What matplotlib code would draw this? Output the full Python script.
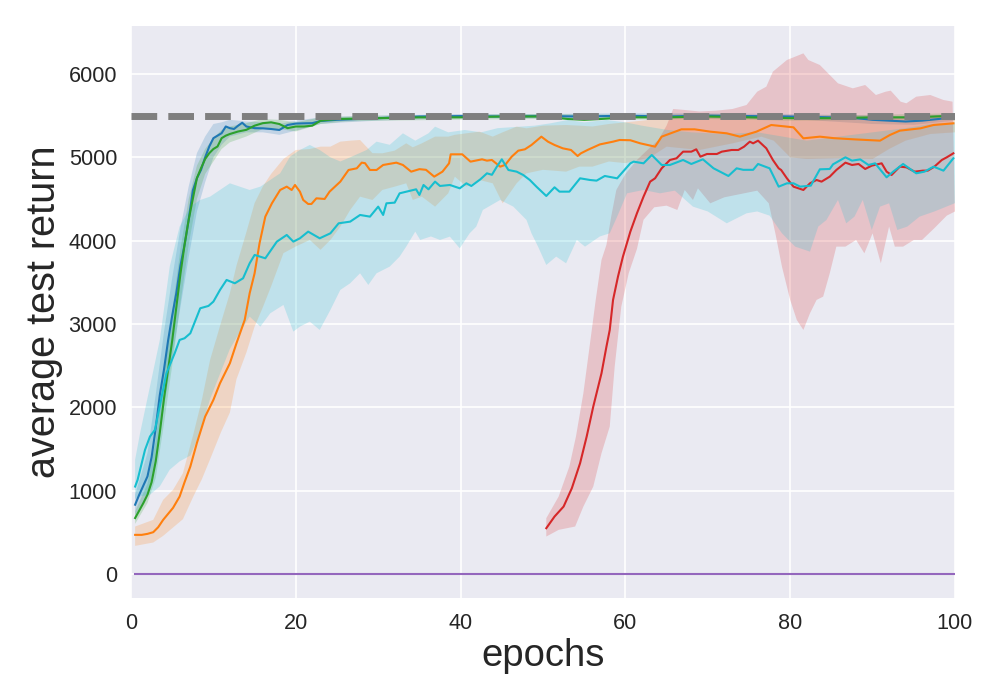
import numpy as np
import matplotlib
matplotlib.use("Agg")
import matplotlib.pyplot as plt

# ---------------- data ----------------
blue_x = [0.5, 1.0, 1.5, 2.0, 2.5, 3.0, 3.5, 4.0, 4.5, 5.0, 5.5, 6.0, 6.5, 7.0, 7.5, 8.0, 8.5, 9.0, 9.5,
          10.0, 10.5, 11.0, 11.5, 12.0, 12.5, 13.0, 13.5, 14.0, 15, 16, 17, 18, 19, 20, 21, 22, 23,
          25, 30, 35, 40, 45, 50, 55, 60, 65, 70, 75, 80, 85, 88, 90, 92, 94, 96, 98, 100]
blue_y = [830, 950, 1060, 1170, 1400, 1750, 2150, 2450, 2800, 3100, 3370, 3700, 3950, 4250, 4600, 4750,
          4850, 5000, 5130, 5230, 5260, 5290, 5370, 5350, 5340, 5380, 5415, 5370, 5350, 5348, 5340, 5328,
          5388, 5405, 5408, 5410, 5436, 5450, 5470, 5490, 5495, 5490, 5495, 5490, 5500, 5490, 5500, 5495,
          5490, 5480, 5470, 5450, 5440, 5430, 5440, 5460, 5480]
blue_band_x = [0.5, 2, 3, 4, 5, 6, 7, 8, 9, 10, 11, 12, 14, 16, 18, 20, 23, 26, 30, 40, 50, 60, 70, 80, 90, 95, 100]
blue_lo = [700, 950, 1350, 2000, 2600, 3200, 3800, 4350, 4700, 5000, 5150, 5250, 5300, 5300, 5270, 5320,
           5400, 5420, 5440, 5470, 5470, 5470, 5470, 5460, 5400, 5390, 5440]
blue_hi = [950, 1450, 2150, 2900, 3550, 4150, 4650, 5050, 5250, 5400, 5420, 5450, 5430, 5420, 5400, 5440,
           5480, 5490, 5500, 5520, 5520, 5530, 5530, 5520, 5500, 5490, 5520]

green_x = [0.5, 1.0, 1.5, 2.0, 2.5, 3.0, 3.5, 4.0, 4.5, 5.0, 5.5, 6.0, 6.5, 7.0, 7.5, 8.0, 8.5, 9.0, 9.5,
           10, 10.5, 11, 11.5, 12, 13, 14, 15, 16, 17, 18, 19, 20, 21, 22, 23, 25, 30, 35, 40, 45, 50,
           53, 55, 57, 60, 65, 70, 75, 80, 85, 90, 95, 100]
green_y = [670, 760, 850, 950, 1100, 1350, 1700, 2100, 2450, 2800, 3200, 3600, 3950, 4250, 4500, 4750, 4870,
           4980, 5050, 5100, 5130, 5230, 5260, 5280, 5310, 5330, 5380, 5410, 5420, 5400, 5350, 5370, 5370,
           5380, 5440, 5460, 5470, 5480, 5480, 5490, 5490, 5460, 5450, 5460, 5480, 5480, 5490, 5480, 5470,
           5470, 5480, 5480, 5500]
green_band_x = [0.5, 2, 3, 4, 5, 6, 7, 8, 9, 10, 11, 12, 14, 16, 18, 20, 23, 26, 30, 40, 50, 60, 70, 80, 90, 100]
green_lo = [600, 850, 1150, 1800, 2500, 3250, 3950, 4500, 4800, 4950, 5100, 5180, 5250, 5340, 5340, 5310,
            5400, 5430, 5440, 5450, 5460, 5450, 5460, 5440, 5450, 5470]
green_hi = [750, 1080, 1600, 2450, 3150, 3900, 4500, 4900, 5100, 5230, 5330, 5370, 5410, 5460, 5450, 5420,
            5480, 5490, 5500, 5510, 5520, 5510, 5520, 5500, 5510, 5530]

orange_x = [0.5, 1.3, 2.0, 2.7, 3.3, 3.9, 4.5, 5.1, 5.9, 6.5, 7.2, 8.0, 9.0, 10.0, 10.8, 12.0, 12.8, 13.8,
            14.4, 15.0, 15.6, 16.3, 17.1, 18.1, 18.9, 19.5, 19.9, 20.5, 20.9, 21.5, 21.9, 22.5, 23.5, 24.1,
            25.4, 26.4, 27.4, 28.0, 28.4, 29.0, 29.8, 30.6, 32.2, 33.0, 34.0, 35.0, 35.8, 36.8, 37.8, 38.6,
            38.8, 40.2, 41.2, 42.6, 43.2, 43.8, 44.8, 45.4, 46.2, 47.0, 47.8, 48.6, 49.8, 50.6, 51.4, 52.4,
            53.4, 54.2, 54.6, 55.4, 56.9, 58.5, 59.3, 60.6, 61.8, 63.6, 64.4, 66.8, 68.4, 70.3, 72.3, 73.9,
            75.9, 77.7, 80.4, 81.6, 83.6, 85.3, 87.7, 89.3, 90.9, 92.1, 93.3, 95.8, 97.4, 99.8]
orange_y = [468, 468, 480, 500, 560, 648, 720, 792, 928, 1100, 1288, 1572, 1888, 2088, 2288, 2528, 2768, 3048,
            3368, 3608, 3968, 4288, 4448, 4608, 4648, 4608, 4668, 4588, 4488, 4440, 4440, 4508, 4500, 4588,
            4708, 4848, 4868, 4936, 4930, 4848, 4848, 4908, 4936, 4908, 4828, 4858, 4850, 4768, 4828, 4928,
            5036, 5036, 4948, 4976, 4960, 4968, 4888, 4908, 5008, 5080, 5096, 5148, 5248, 5188, 5148, 5108,
            5088, 5016, 5048, 5088, 5155, 5188, 5208, 5205, 5168, 5128, 5248, 5336, 5336, 5308, 5288, 5248,
            5308, 5388, 5360, 5228, 5248, 5230, 5216, 5208, 5200, 5268, 5320, 5348, 5388, 5408]
orange_band_x = [0.5, 2.7, 3.9, 5.1, 6.3, 7.6, 8.6, 9.6, 10.9, 12, 12.8, 14, 15, 16, 17, 18.5, 20, 21.7,
                 23, 24.2, 25.4, 26.6, 27.8, 29.3, 30.5, 32, 33.4, 34.2, 35.3, 36.9, 38.5, 39.3, 40.7, 42.3,
                 43.9, 45.1, 46.8, 48, 50, 52.8, 54.4, 56, 58, 60, 63, 65, 69, 73, 76.5, 78, 80, 82, 86, 90,
                 92, 94, 97, 100]
orange_lo = [336, 376, 456, 556, 656, 936, 1136, 1376, 1696, 1936, 2336, 2656, 2968, 3200, 3450, 3850, 3930,
             4008, 3890, 4008, 4168, 4368, 4528, 4488, 4608, 4648, 4688, 4488, 4528, 4408, 4568, 4768, 4648,
             4728, 4688, 4448, 4688, 4808, 4850, 4828, 4888, 4888, 4950, 4930, 5000, 5128, 5088, 5168, 5248,
             5200, 5000, 4980, 4990, 4980, 5100, 5200, 5280, 5300]
orange_hi = [568, 648, 888, 1008, 1208, 1688, 2088, 2568, 3008, 3368, 3700, 4100, 4450, 4650, 4800, 4980,
             5088, 5100, 5128, 5128, 5188, 5200, 5208, 5050, 5048, 5080, 5168, 5120, 5168, 5248, 5248, 5270,
             5288, 5308, 5248, 5300, 5368, 5348, 5380, 5388, 5380, 5370, 5400, 5420, 5450, 5470, 5500, 5500,
             5490, 5500, 5500, 5490, 5480, 5470, 5480, 5490, 5500, 5500]

red_x = [50.4, 51.4, 52.5, 53.5, 54.5, 55.3, 56.1, 57.1, 57.7, 58.1, 58.5, 59.1, 59.7, 60.6, 61.4, 62.2,
         63.0, 63.6, 64.4, 65.4, 66.2, 67.0, 68.0, 68.6, 69.1, 69.9, 71.1, 71.7, 72.9, 73.7, 74.4, 75.1,
         75.5, 76.1, 77.1, 77.9, 78.6, 78.9, 79.6, 80.4, 81.6, 82.4, 83.2, 83.8, 84.8, 85.6, 86.7, 87.5,
         88.3, 89.1, 89.9, 91.1, 91.7, 92.3, 93.3, 94.1, 95.1, 96.1, 96.7, 97.5, 98.4, 99.0, 99.8]
red_y = [548, 688, 808, 1028, 1328, 1648, 2008, 2408, 2728, 2928, 3288, 3568, 3808, 4108, 4328, 4528,
         4708, 4748, 4868, 4968, 4988, 5068, 5068, 5096, 5008, 5040, 5040, 5068, 5088, 5088, 5128, 5188,
         5168, 5200, 5108, 4968, 4868, 4848, 4748, 4648, 4608, 4688, 4728, 4708, 4768, 4848, 4936, 4908,
         4920, 4860, 4900, 4928, 4828, 4788, 4888, 4880, 4828, 4840, 4840, 4888, 4968, 5000, 5048]
red_lo_x = [50.4, 51.9, 53.9, 54.9, 56.1, 57.1, 58.1, 58.7, 59.5, 60.4, 61.4, 62.2, 63.5, 65, 66.3, 67.2,
            68.2, 68.8, 70.3, 72, 74, 76, 77.4, 78.2, 79, 80, 80.8, 81.6, 82.4, 83.2, 84, 84.8, 85.6, 86.7,
            88, 89, 90, 91, 92, 92.7, 93.7, 95, 96, 97.5, 99, 100]
red_lo = [448, 528, 568, 808, 1048, 1448, 1768, 2488, 3208, 3608, 3900, 4250, 4400, 4420, 4368, 4608,
          4488, 4628, 4448, 4520, 4560, 4600, 4448, 4088, 3688, 3288, 3048, 2928, 3128, 3288, 3328, 3608,
          3928, 3928, 4008, 3848, 4088, 3728, 4168, 3928, 3928, 4008, 4008, 4150, 4300, 4350]
red_hi_x = [50.4, 51.9, 53.2, 54.0, 54.9, 55.6, 56.4, 57.1, 57.7, 58.3, 58.9, 60.0, 61.4, 62.8, 64.0, 65.0,
            65.8, 67, 69, 71, 73, 74.7, 76, 77.1, 77.9, 79.6, 81.6, 82.2, 83.6, 84.8, 85.8, 87.6, 89.1,
            90.4, 91.6, 92.2, 93.4, 94.1, 95.3, 97, 98.6, 99.7]
red_hi = [668, 928, 1288, 1648, 2168, 2688, 3288, 3768, 3950, 4300, 4608, 4800, 4968, 5100, 5208, 5380,
          5580, 5570, 5550, 5560, 5580, 5628, 5788, 5848, 6028, 6168, 6248, 6168, 6108, 5988, 5888, 5828,
          5868, 5748, 5788, 5800, 5668, 5648, 5728, 5748, 5688, 5668]

purple_x = [0.5, 100]
purple_y = [0, 0]

cyan_x = [0.5, 0.8, 1.7, 2.3, 2.9, 3.4, 4.3, 5.3, 5.9, 6.5, 7.2, 8.4, 9.4, 10.0, 10.8, 11.6, 12.6, 13.6,
          14.4, 15.0, 16.3, 17.7, 18.9, 19.7, 20.5, 21.5, 22.9, 24.2, 25.2, 26.6, 27.8, 29.0, 30.0, 30.6,
          31.0, 32.0, 32.6, 34.6, 35.0, 35.5, 36.1, 36.9, 37.5, 38.7, 39.9, 40.7, 41.3, 42.4, 43.2, 43.8,
          44.4, 45.0, 45.8, 46.8, 47.6, 48.4, 49.2, 50.4, 51.4, 52.0, 53.2, 54.5, 55.7, 56.5, 57.5, 59.0,
          60.6, 61.0, 62.2, 63.2, 64.4, 65.4, 67.0, 68.0, 69.4, 70.7, 72.5, 73.5, 74.3, 75.5, 76.1, 77.5,
          78.6, 79.6, 80.4, 81.2, 82.5, 83.6, 84.8, 85.2, 86.7, 87.5, 88.5, 89.5, 90.3, 91.7, 92.5, 93.7,
          95.3, 96.3, 97.4, 98.6, 99.8]
cyan_y = [1048, 1128, 1488, 1648, 1728, 1968, 2408, 2648, 2808, 2828, 2888, 3188, 3216, 3268, 3408, 3528,
          3488, 3548, 3728, 3828, 3788, 3988, 4068, 3988, 4028, 4108, 4028, 4088, 4208, 4228, 4308, 4288,
          4408, 4308, 4448, 4456, 4568, 4616, 4548, 4668, 4616, 4708, 4656, 4668, 4628, 4688, 4656, 4736,
          4808, 4790, 4888, 4976, 4848, 4828, 4788, 4728, 4648, 4536, 4640, 4588, 4588, 4748, 4728, 4720,
          4776, 4748, 4928, 4948, 4928, 5028, 4908, 4908, 4968, 4920, 4976, 4868, 4776, 4868, 4850, 4850,
          4920, 4868, 4648, 4688, 4688, 4648, 4660, 4856, 4860, 4916, 5000, 4960, 4975, 4908, 4928, 4760,
          4828, 4920, 4808, 4828, 4888, 4840, 4988]
cyan_lo_x = [0.5, 1.1, 2.3, 3.5, 4.7, 5.9, 7.2, 8.4, 9.6, 10.8, 12, 13.2, 14.4, 15.7, 16.9, 18.5, 19.7,
             20.5, 21.7, 22.9, 24.2, 25.4, 26.6, 27.8, 28.8, 29.8, 31.4, 32.6, 33.4, 34.5, 35.1, 36.4, 37.5,
             38.7, 39.9, 41.1, 41.9, 42.7, 44.8, 46.4, 48, 48.6, 49.4, 50.4, 51.6, 52.8, 54.1, 55.1, 56.9,
             58.1, 59.0, 60.2, 62.2, 64.2, 66, 68.2, 70, 72.3, 74.7, 76, 77.5, 79, 80.6, 82.4, 83.4, 84.4,
             85.8, 86.8, 87.8, 88.8, 89.9, 90.9, 92, 93, 94.2, 95.7, 97.5, 100]
cyan_lo = [900, 930, 950, 1050, 1250, 1350, 1420, 1700, 2100, 2400, 2700, 2900, 3088, 2968, 3128, 3228,
           2908, 2968, 3028, 2928, 3168, 3408, 3488, 3608, 3468, 3608, 3688, 3808, 3928, 4108, 4008, 4050,
           4008, 4048, 3908, 4088, 4168, 4368, 4488, 4408, 4248, 4088, 3928, 3708, 3808, 3728, 4008, 3928,
           4050, 4088, 4288, 4568, 4608, 4568, 4600, 4408, 4350, 4208, 4328, 4350, 4300, 4088, 3928, 3868,
           4168, 4248, 4488, 4208, 4288, 4488, 4128, 4408, 4448, 4128, 4168, 4288, 4350, 4450]
cyan_hi_x = [0.5, 1.1, 2.3, 3.5, 4.7, 5.9, 7.2, 8.4, 9.6, 10.8, 12, 13.2, 14.4, 15.7, 16.9, 18.1, 19.3,
             20.5, 21.7, 22.9, 24.2, 25.4, 26.6, 28.6, 29.8, 31.4, 33, 34.5, 36.1, 36.9, 38.5, 40.5, 42.5,
             44.5, 47.2, 49, 50.9, 53, 55, 57.7, 60, 62, 65, 68, 72, 76, 79, 82, 86, 90, 94, 97, 100]
cyan_hi = [1370, 1688, 2248, 2808, 3688, 4168, 4408, 4488, 4528, 4608, 4688, 4648, 4608, 4648, 4728, 4808,
           5008, 5088, 5148, 5088, 5000, 4950, 5000, 5088, 5188, 5150, 5288, 5200, 5288, 5368, 5300, 5328,
           5300, 5350, 5368, 5380, 5408, 5448, 5420, 5448, 5420, 5380, 5330, 5300, 5280, 5300, 5250, 5200,
           5250, 5300, 5350, 5400, 5420]

baseline = 5500

x_ticks = [0, 20, 40, 60, 80, 100]
y_ticks = [0, 1000, 2000, 3000, 4000, 5000, 6000]
x_label = "epochs"
y_label = "average test return"

# ---------------- style ----------------
plt.rcParams['font.family'] = ['Liberation Sans', 'DejaVu Sans']
text_color = '#262626'

fig = plt.figure(figsize=(10, 7), dpi=100)
ax = fig.add_axes([0.131, 0.1457, 0.824, 0.817])
ax.set_facecolor('#EAEAF2')
for s in ax.spines.values():
    s.set_visible(False)
ax.grid(True, color='white', linewidth=1.2)
ax.set_axisbelow(True)

ALPHA = 0.2
LW = 1.5


def band(xhi, hi, xlo, lo, color):
    px = np.concatenate([np.asarray(xhi, float), np.asarray(xlo, float)[::-1]])
    py = np.concatenate([np.asarray(hi, float), np.asarray(lo, float)[::-1]])
    ax.fill(px, py, color=color, alpha=ALPHA, linewidth=0)


c_blue, c_orange, c_green, c_red, c_purple, c_cyan = '#1f77b4', '#ff7f0e', '#2ca02c', '#d62728', '#9467bd', '#17becf'

band(blue_band_x, blue_hi, blue_band_x, blue_lo, c_blue)
ax.plot(blue_x, blue_y, color=c_blue, lw=LW)
band(orange_band_x, orange_hi, orange_band_x, orange_lo, c_orange)
ax.plot(orange_x, orange_y, color=c_orange, lw=LW)
band(green_band_x, green_hi, green_band_x, green_lo, c_green)
ax.plot(green_x, green_y, color=c_green, lw=LW)
band(red_hi_x, red_hi, red_lo_x, red_lo, c_red)
ax.plot(red_x, red_y, color=c_red, lw=LW)
ax.plot(purple_x, purple_y, color=c_purple, lw=LW)
band(cyan_hi_x, cyan_hi, cyan_lo_x, cyan_lo, c_cyan)
ax.plot(cyan_x, cyan_y, color=c_cyan, lw=LW)
ax.axhline(baseline, color='#7f7f7f', lw=5, ls='--', zorder=5)

ax.set_xlim(0, 100)
ax.set_ylim(-290, 6575)
ax.set_xticks(x_ticks)
ax.set_yticks(y_ticks)
ax.tick_params(axis='both', length=0, labelsize=15.6, colors=text_color)
ax.tick_params(axis='x', pad=11)
ax.tick_params(axis='y', pad=10)
ax.set_xlabel(x_label, fontsize=27.5, color=text_color, labelpad=3)
ax.set_ylabel(y_label, fontsize=28.5, color=text_color, labelpad=4)

fig.savefig("out.png", dpi=100)
